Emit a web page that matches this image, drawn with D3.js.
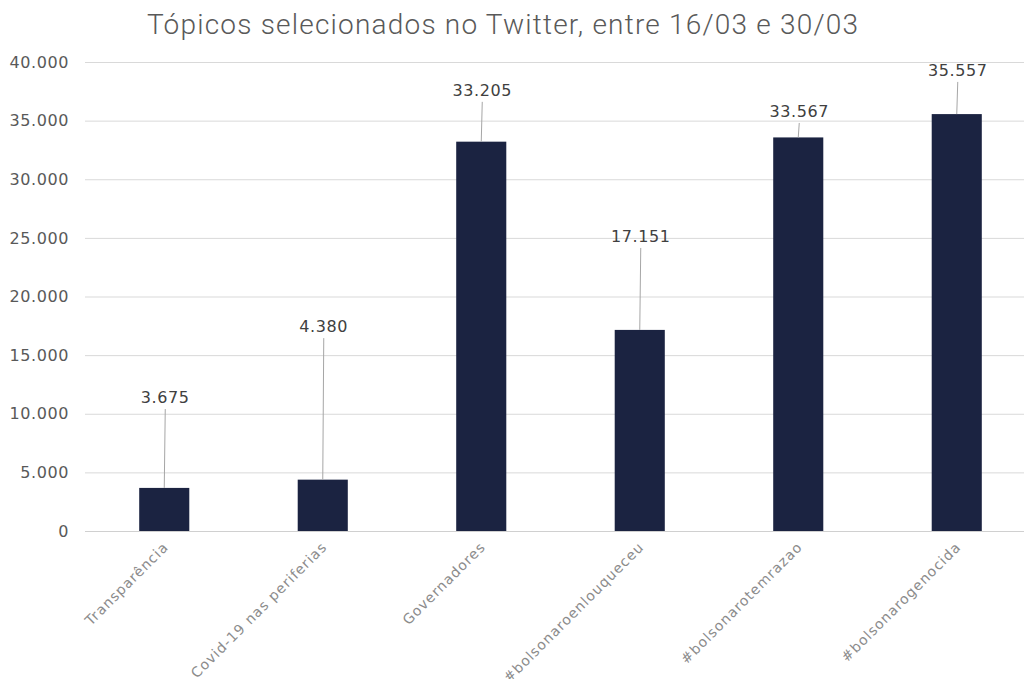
<!DOCTYPE html>
<html><head><meta charset="utf-8">
<script src="https://cdn.jsdelivr.net/npm/d3@7"></script>
<style>
body{margin:0;background:#fff;}
svg{display:block;}
</style></head>
<body>
<svg id="chart" width="1024" height="679"></svg>
<script>
const categories = ["Transparência","Covid-19 nas periferias","Governadores","#bolsonaroenlouqueceu","#bolsonarotemrazao","#bolsonarogenocida"];
const values = [3675, 4380, 33205, 17151, 33567, 35557];
const labelAnchorValues = [10400, 16450, 36600, 24140, 34800, 38300];
const yTicks = [0,5000,10000,15000,20000,25000,30000,35000,40000];
const title = "Tópicos selecionados no Twitter, entre 16/03 e 30/03";

const svg = d3.select("#chart");
const W = 1024, H = 679;
const m = {left:85, right:-12, top:62, bottom:148};
const x = d3.scaleBand().domain(categories).range([m.left, W - m.right]).paddingInner(0.684).paddingOuter(0.342);
const y = d3.scaleLinear().domain([0,40000]).range([H - m.bottom, m.top]);
const fmt = v => d3.format(",")(v).replace(/,/g,".");

svg.append("rect").attr("width",W).attr("height",H).attr("fill","#fff");

// title
svg.append("text").attr("x",147).attr("y",34)
  .attr("font-family","Roboto").attr("font-weight",300).attr("font-size",28)
  .attr("textLength",711).attr("lengthAdjust","spacing")
  .attr("fill","#595959").text(title);

// gridlines
svg.append("g").selectAll("line").data(yTicks).join("line")
  .attr("x1",m.left).attr("x2",W - m.right)
  .attr("y1",d=>y(d)+0.5).attr("y2",d=>y(d)+0.5)
  .attr("stroke",d=>d===0?"#d0d0d0":"#d9d9d9").attr("stroke-width",1);

// y axis labels
const yAxis = d3.axisLeft(y).tickValues(yTicks).tickFormat(fmt).tickSize(0).tickPadding(16);
const gy = svg.append("g").attr("transform",`translate(${m.left},0)`).call(yAxis);
gy.select(".domain").remove();
gy.selectAll("text").attr("font-family","DejaVu Sans").attr("font-size",16)
  .attr("letter-spacing",0.6).attr("fill","#595959");

// bars
svg.append("g").selectAll("rect").data(values).join("rect")
  .attr("x",(d,i)=>x(categories[i])).attr("width",x.bandwidth())
  .attr("y",d=>y(d)).attr("height",d=>y(0)-y(d))
  .attr("fill","#1b2341");

// leader lines + labels
const lg = svg.append("g");
values.forEach((v,i)=>{
  const cx = x(categories[i]) + x.bandwidth()/2;
  const ty = y(labelAnchorValues[i]);
  lg.append("line").attr("x1",cx+1).attr("x2",cx).attr("y1",ty).attr("y2",y(v))
    .attr("stroke","#a6a6a6").attr("stroke-width",1);
  lg.append("text").attr("x",cx+1).attr("y",ty-6).attr("text-anchor","middle")
    .attr("font-family","DejaVu Sans").attr("font-size",16).attr("letter-spacing",0.6)
    .attr("fill","#404040")
    .text(fmt(v));
});

// x axis labels
const xAxis = d3.axisBottom(x).tickSize(0).tickPadding(0);
const gx = svg.append("g").attr("transform",`translate(0,${y(0)})`).call(xAxis);
gx.select(".domain").remove();
gx.selectAll("text")
  .attr("font-family","DejaVu Sans").attr("font-size",14).attr("letter-spacing",1)
  .attr("fill","#8c8c8c")
  .attr("text-anchor","end").attr("dy",null).attr("y",0)
  .attr("transform","translate(5,17) rotate(-45)");
</script>
</body></html>
